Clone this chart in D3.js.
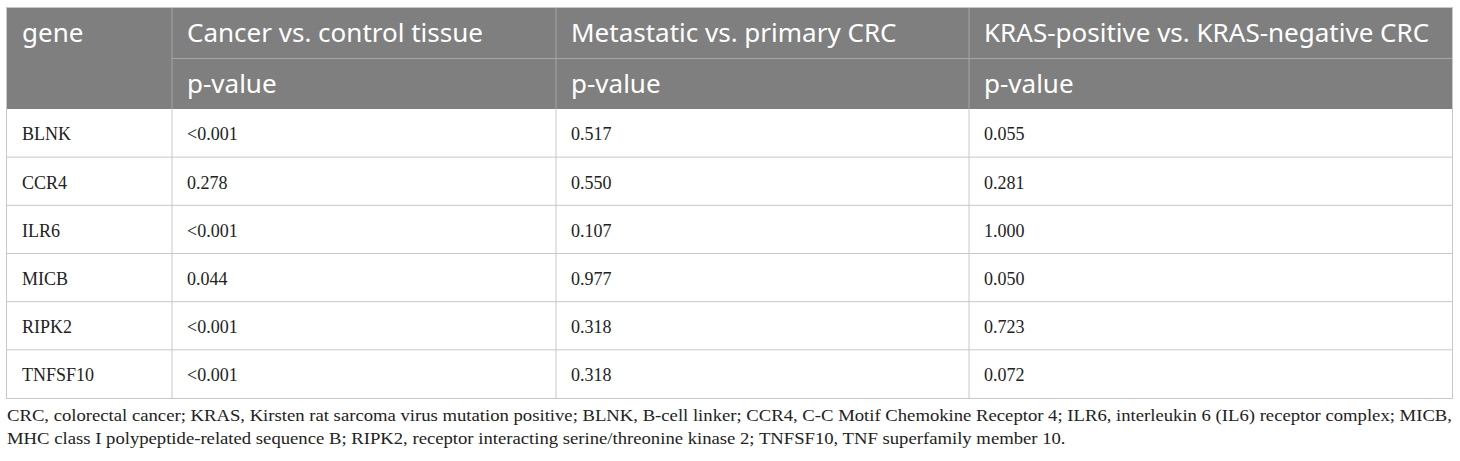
<!DOCTYPE html>
<html>
<head>
<meta charset="utf-8">
<script src="https://cdn.jsdelivr.net/npm/d3@7"></script>
<style>
  html, body { margin: 0; padding: 0; background: #fff; }
  svg { display: block; }
</style>
</head>
<body>
<script>
// table content
var comparisons = ['Cancer vs. control tissue', 'Metastatic vs. primary CRC', 'KRAS-positive vs. KRAS-negative CRC']
var subHeader = 'p-value'
var genes = ['BLNK', 'CCR4', 'ILR6', 'MICB', 'RIPK2', 'TNFSF10']
var cancerP = ['<0.001', '0.278', '<0.001', '0.044', '<0.001', '<0.001']
var metastaticP = ['0.517', '0.550', '0.107', '0.977', '0.318', '0.318']
var krasP = ['0.055', '0.281', '1.000', '0.050', '0.723', '0.072']
var footnote = [
  'CRC, colorectal cancer; KRAS, Kirsten rat sarcoma virus mutation positive; BLNK, B-cell linker; CCR4, C-C Motif Chemokine Receptor 4; ILR6, interleukin 6 (IL6) receptor complex; MICB,',
  'MHC class I polypeptide-related sequence B; RIPK2, receptor interacting serine/threonine kinase 2; TNFSF10, TNF superfamily member 10.'
]

// layout
var width = 1460
var height = 461
var tLeft = 7, tRight = 1452
var tTop = 8, headerRow = 50.5, tBottom = 398
var colEdges = [tLeft, 172, 556, 969, tRight]
var pad = 15

var svg = d3.select('body').append('svg')
    .attr('width', width)
    .attr('height', height)

var headerBottom = tTop + headerRow * 2

var x = d3.scaleOrdinal()
    .domain(d3.range(4))
    .range(colEdges.slice(0, 4))

var y = d3.scaleBand()
    .domain(genes)
    .range([headerBottom, tBottom])

// header background
svg.append('rect')
    .attr('x', tLeft)
    .attr('y', tTop)
    .attr('width', tRight - tLeft)
    .attr('height', headerBottom - tTop)
    .attr('fill', '#7f7f7f')

// header lines
var hdr = svg.append('g').attr('stroke', '#a6a6a6').attr('stroke-width', 1)
hdr.append('line')
    .attr('x1', colEdges[1]).attr('x2', tRight)
    .attr('y1', tTop + headerRow).attr('y2', tTop + headerRow)
hdr.selectAll('line.v')
    .data(colEdges.slice(1, 4)).enter()
    .append('line')
    .attr('class', 'v')
    .attr('x1', d => d).attr('x2', d => d)
    .attr('y1', tTop).attr('y2', headerBottom)

// header text
var headFont = "'Noto Sans', 'Open Sans', sans-serif"
svg.append('text')
    .attr('x', x(0) + pad)
    .attr('y', tTop + headerRow / 2)
    .attr('dy', '0.35em')
    .attr('fill', '#fff')
    .style('font-family', headFont)
    .style('font-size', '26px')
    .text('gene')

svg.selectAll('text.comp')
    .data(comparisons).enter()
    .append('text')
    .attr('class', 'comp')
    .attr('x', (d, i) => x(i + 1) + pad)
    .attr('y', tTop + headerRow / 2)
    .attr('dy', '0.35em')
    .attr('fill', '#fff')
    .style('font-family', headFont)
    .style('font-size', '26px')
    .text(d => d)

svg.selectAll('text.sub')
    .data(comparisons).enter()
    .append('text')
    .attr('class', 'sub')
    .attr('x', (d, i) => x(i + 1) + pad)
    .attr('y', tTop + headerRow * 1.5)
    .attr('dy', '0.35em')
    .attr('fill', '#fff')
    .style('font-family', headFont)
    .style('font-size', '26px')
    .text(subHeader)

// body grid
var grid = svg.append('g').attr('stroke', '#c8c8c8').attr('stroke-width', 1).attr('fill', 'none')
grid.selectAll('line.row')
    .data(genes.slice(1)).enter()
    .append('line')
    .attr('class', 'row')
    .attr('x1', tLeft).attr('x2', tRight)
    .attr('y1', d => y(d)).attr('y2', d => y(d))
grid.selectAll('line.col')
    .data(colEdges.slice(1, 4)).enter()
    .append('line')
    .attr('class', 'col')
    .attr('x1', d => d).attr('x2', d => d)
    .attr('y1', headerBottom).attr('y2', tBottom)
grid.append('rect')
    .attr('x', tLeft - 0.5)
    .attr('y', tTop - 0.5)
    .attr('width', tRight - tLeft + 1)
    .attr('height', tBottom - tTop + 1)

// body cells
var rows = genes.map((g, i) => [g, cancerP[i], metastaticP[i], krasP[i]])
var rowG = svg.selectAll('g.datarow')
    .data(rows).enter()
    .append('g')
    .attr('class', 'datarow')
    .attr('transform', d => 'translate(0,' + (y(d[0]) + y.bandwidth() / 2 + 1) + ')')

rowG.selectAll('text')
    .data(d => d).enter()
    .append('text')
    .attr('x', (d, i) => x(i) + pad)
    .attr('dy', '0.35em')
    .attr('fill', '#222')
    .style('font-family', "'Liberation Serif', 'Times New Roman', serif")
    .style('font-size', '18px')
    .text(d => d)

// footnote, stretched so the first line fills the table width
var foot = svg.selectAll('text.foot')
    .data(footnote).enter()
    .append('text')
    .attr('class', 'foot')
    .attr('x', tLeft)
    .attr('y', (d, i) => 421 + i * 23)
    .attr('fill', '#222')
    .style('font-family', "'Liberation Serif', 'Times New Roman', serif")
    .style('font-size', '17px')
    .text(d => d)

var stretch = (tRight - tLeft) / foot.node().getComputedTextLength()
foot.each(function () {
  d3.select(this)
    .attr('textLength', this.getComputedTextLength() * stretch)
    .attr('lengthAdjust', 'spacingAndGlyphs')
})
</script>
</body>
</html>
